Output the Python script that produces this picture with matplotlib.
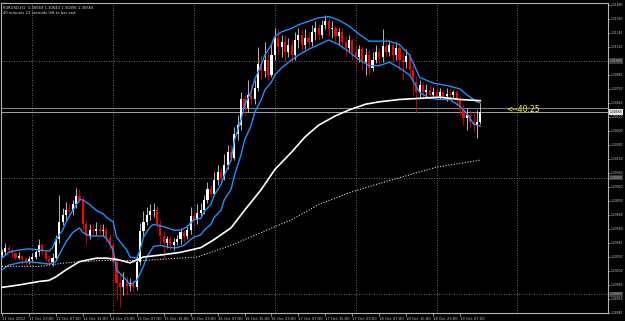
import numpy as np
import matplotlib
matplotlib.use("Agg")
import matplotlib.pyplot as plt

# ---------------- DATA ----------------
# EURUSD H1, one value per bar (open of each bar = close of the bar before)
first_open = 1.2934
closes = [
    1.2936,
    1.2940, 1.2938, 1.2935, 1.2931, 1.2933, 1.2930, 1.2928, 1.2930, 1.2932, 1.2936,
    1.2942, 1.2936, 1.2930, 1.2928, 1.2931, 1.2947, 1.2962, 1.2968, 1.2972, 1.2971,
    1.2977, 1.2984, 1.2981, 1.2960, 1.2950, 1.2955, 1.2954, 1.2956, 1.2954, 1.2955,
    1.2948, 1.2942, 1.2928, 1.2910, 1.2906, 1.2912, 1.2907, 1.2910, 1.2906, 1.2928,
    1.2954, 1.2962, 1.2968, 1.2971, 1.2972, 1.2960, 1.2950, 1.2944, 1.2947, 1.2942,
    1.2945, 1.2947, 1.2953, 1.2950, 1.2955, 1.2967, 1.2964, 1.2970, 1.2972, 1.2981,
    1.2990, 1.2986, 1.2998, 1.3005, 1.3000, 1.3011, 1.3022, 1.3017, 1.3037, 1.3045,
    1.3067, 1.3060, 1.3071, 1.3067, 1.3077, 1.3097, 1.3091, 1.3101, 1.3088, 1.3105,
    1.3120, 1.3112, 1.3116, 1.3108, 1.3114, 1.3105, 1.3118, 1.3122, 1.3114, 1.3120,
    1.3116, 1.3125, 1.3128, 1.3122, 1.3131, 1.3134, 1.3127, 1.3128, 1.3121, 1.3125,
    1.3116, 1.3111, 1.3118, 1.3108, 1.3103, 1.3110, 1.3099, 1.3105, 1.3094, 1.3101,
    1.3108, 1.3103, 1.3113, 1.3108, 1.3114, 1.3105, 1.3111, 1.3101, 1.3099, 1.3104,
    1.3092, 1.3082, 1.3073, 1.3079, 1.3073, 1.3075, 1.3071, 1.3073, 1.3070, 1.3073,
    1.3070, 1.3072, 1.3071, 1.3073, 1.3067, 1.3058, 1.3051, 1.3054, 1.3048, 1.3045,
    1.3048, 1.30565,
]
highs = [
    1.2939,
    1.2944, 1.2942, 1.2940, 1.2936, 1.2936, 1.2934, 1.2932, 1.2933, 1.2935, 1.2938,
    1.2947, 1.2944, 1.2938, 1.2934, 1.2935, 1.2951, 1.2985, 1.2974, 1.2979, 1.2977,
    1.2981, 1.2991, 1.2990, 1.2984, 1.2964, 1.2960, 1.2960, 1.2962, 1.2960, 1.2960,
    1.2958, 1.2952, 1.2944, 1.2931, 1.2917, 1.2919, 1.2916, 1.2914, 1.2912, 1.2934,
    1.2961, 1.2971, 1.2975, 1.2977, 1.2978, 1.2976, 1.2964, 1.2954, 1.2950, 1.2950,
    1.2948, 1.2951, 1.2957, 1.2955, 1.2959, 1.2975, 1.2971, 1.2977, 1.2978, 1.2985,
    1.2996, 1.2994, 1.3005, 1.3011, 1.3008, 1.3020, 1.3028, 1.3028, 1.3043, 1.3054,
    1.3073, 1.3071, 1.3084, 1.3080, 1.3084, 1.3112, 1.3105, 1.3116, 1.3108, 1.3114,
    1.3128, 1.3127, 1.3122, 1.3122, 1.3120, 1.3118, 1.3125, 1.3128, 1.3127, 1.3127,
    1.3125, 1.3131, 1.3134, 1.3132, 1.3135, 1.3139, 1.3137, 1.3134, 1.3131, 1.3128,
    1.3128, 1.3121, 1.3122, 1.3120, 1.3114, 1.3114, 1.3113, 1.3111, 1.3110, 1.3108,
    1.3114, 1.3111, 1.3127, 1.3120, 1.3118, 1.3116, 1.3116, 1.3115, 1.3108, 1.3110,
    1.3108, 1.3097, 1.3087, 1.3084, 1.3082, 1.3080, 1.3079, 1.3078, 1.3077, 1.3077,
    1.3075, 1.3077, 1.3076, 1.3075, 1.3075, 1.3070, 1.3063, 1.3060, 1.3058, 1.3056,
    1.3058, 1.30643,
]
lows = [
    1.2932,
    1.2934, 1.2936, 1.2932, 1.2929, 1.2930, 1.2926, 1.2924, 1.2926, 1.2928, 1.2930,
    1.2933, 1.2934, 1.2928, 1.2925, 1.2924, 1.2929, 1.2944, 1.2959, 1.2964, 1.2966,
    1.2968, 1.2974, 1.2978, 1.2955, 1.2942, 1.2947, 1.2950, 1.2951, 1.2952, 1.2950,
    1.2945, 1.2938, 1.2925, 1.2895, 1.2889, 1.2899, 1.2899, 1.2903, 1.2902, 1.2904,
    1.2925, 1.2949, 1.2959, 1.2964, 1.2966, 1.2957, 1.2942, 1.2931, 1.2940, 1.2938,
    1.2938, 1.2942, 1.2943, 1.2945, 1.2947, 1.2952, 1.2959, 1.2960, 1.2966, 1.2969,
    1.2978, 1.2983, 1.2984, 1.2994, 1.2995, 1.2998, 1.3007, 1.3014, 1.3015, 1.3032,
    1.3041, 1.3054, 1.3056, 1.3062, 1.3063, 1.3074, 1.3084, 1.3086, 1.3084, 1.3086,
    1.3101, 1.3105, 1.3103, 1.3099, 1.3103, 1.3099, 1.3101, 1.3111, 1.3108, 1.3110,
    1.3111, 1.3113, 1.3118, 1.3118, 1.3120, 1.3127, 1.3121, 1.3120, 1.3116, 1.3114,
    1.3110, 1.3104, 1.3108, 1.3101, 1.3094, 1.3099, 1.3092, 1.3088, 1.3088, 1.3091,
    1.3098, 1.3096, 1.3099, 1.3103, 1.3104, 1.3099, 1.3101, 1.3092, 1.3084, 1.3094,
    1.3086, 1.3071, 1.3055, 1.3067, 1.3067, 1.3068, 1.3067, 1.3068, 1.3067, 1.3067,
    1.3067, 1.3066, 1.3067, 1.3068, 1.3061, 1.3054, 1.3045, 1.3041, 1.3043, 1.3039,
    1.3034, 1.3046,
]

# indicator lines, read at some bars
upper_idx = [0, 2, 5, 8, 11, 14, 15, 16, 18, 19, 21, 23, 24, 26, 28, 30, 31, 33, 34, 37,
             38, 40, 41, 42, 44, 45, 48, 51, 53, 55, 57, 59, 60, 62, 63, 65, 66, 68, 69, 71,
             72, 74, 75, 77, 78, 80, 81, 83, 86, 88, 91, 94, 97, 100, 103, 106, 109, 112, 115, 118,
             121, 124, 128, 132, 136, 138, 141, 142]
upper_band = [1.2931, 1.2936, 1.2938, 1.2939, 1.2938, 1.2937, 1.2940, 1.2947, 1.2955, 1.2962,
              1.2972, 1.2981, 1.2981, 1.2977, 1.2972, 1.2969, 1.2966, 1.2962, 1.2949, 1.2938,
              1.2932, 1.2931, 1.2938, 1.2949, 1.2958, 1.2960, 1.2958, 1.2955, 1.2955, 1.2958,
              1.2964, 1.2965, 1.2971, 1.2977, 1.2985, 1.2994, 1.3002, 1.3015, 1.3032, 1.3050,
              1.3062, 1.3074, 1.3084, 1.3097, 1.3105, 1.3114, 1.3121, 1.3125, 1.3128, 1.3131,
              1.3134, 1.3137, 1.3138, 1.3135, 1.3130, 1.3123, 1.3117, 1.3117, 1.3117, 1.3114,
              1.3105, 1.3086, 1.3081, 1.3079, 1.3076, 1.3071, 1.3065, 1.3064]

lower_idx = [0, 2, 5, 8, 11, 14, 16, 17, 19, 21, 23, 24, 26, 28, 30, 31, 33, 34, 37, 38,
             40, 42, 43, 45, 47, 50, 52, 54, 56, 57, 59, 60, 62, 63, 65, 66, 68, 69, 71, 72,
             74, 75, 77, 78, 80, 81, 83, 86, 88, 91, 94, 97, 100, 103, 106, 109, 112, 115, 118, 121,
             124, 127, 130, 133, 136, 138, 140, 142]
lower_band = [1.2921, 1.2925, 1.2927, 1.2928, 1.2927, 1.2926, 1.2928, 1.2934, 1.2945, 1.2953,
              1.2957, 1.2953, 1.2950, 1.2950, 1.2950, 1.2948, 1.2938, 1.2921, 1.2912, 1.2908,
              1.2912, 1.2924, 1.2932, 1.2941, 1.2942, 1.2940, 1.2940, 1.2942, 1.2947, 1.2949,
              1.2951, 1.2955, 1.2960, 1.2966, 1.2972, 1.2981, 1.2990, 1.3002, 1.3020, 1.3032,
              1.3045, 1.3056, 1.3067, 1.3075, 1.3082, 1.3088, 1.3094, 1.3101, 1.3105, 1.3110,
              1.3114, 1.3118, 1.3114, 1.3108, 1.3101, 1.3096, 1.3096, 1.3099, 1.3094, 1.3088,
              1.3073, 1.3068, 1.3067, 1.3067, 1.3061, 1.3055, 1.3046, 1.3044]

ma_idx = [0, 5, 11, 14, 16, 19, 23, 28, 31, 34, 38, 42, 48, 53, 59, 63, 68, 72, 77, 81,
          86, 90, 94, 99, 103, 108, 112, 118, 124, 130, 136, 142]
ma_fast = [1.2906, 1.2908, 1.2911, 1.2912, 1.2915, 1.2921, 1.2928, 1.2931, 1.2931, 1.2930,
           1.2927, 1.2932, 1.2934, 1.2936, 1.2940, 1.2947, 1.2957, 1.2972, 1.2990, 1.3007,
           1.3022, 1.3035, 1.3045, 1.3053, 1.3058, 1.3063, 1.3065, 1.3067, 1.3068, 1.3069,
           1.3067, 1.3066]

slow_idx = [0, 11, 19, 29, 42, 58, 68, 77, 86, 94, 103, 112, 118, 129, 142]
ma_slow = [1.2924, 1.2924, 1.2927, 1.2929, 1.2929, 1.2932, 1.2942, 1.2953, 1.2964, 1.2977,
           1.2987, 1.2995, 1.3000, 1.3009, 1.3015]

time_labels = ["11 Oct 2012", "11 Oct 23:00", "12 Oct 07:00", "12 Oct 15:00", "14 Oct 23:00",
               "15 Oct 07:00", "15 Oct 15:00", "15 Oct 23:00", "16 Oct 07:00", "16 Oct 15:00",
               "16 Oct 23:00", "17 Oct 07:00", "17 Oct 15:00", "17 Oct 23:00", "18 Oct 07:00",
               "18 Oct 15:00", "18 Oct 23:00", "19 Oct 07:00"]
day_breaks = [9, 33, 57, 81, 105, 129, 153]
bid, ask = 1.30565, 1.30600
price_levels = [1.28840 + 0.0012 * k for k in range(23)]
round_levels = [1.29, 1.30, 1.31]

header1 = "EURUSD,H1  1.30569 1.30643 1.30496 1.30565"
header2 = "40 minutes 21 seconds left to bar end"
countdown = "<--40:25"

# ---------------- PLOT ----------------
closes = np.array(closes)
highs = np.array(highs)
lows = np.array(lows)
opens = np.r_[first_open, closes[:-1]]
x = np.arange(len(closes))

fig = plt.figure(figsize=(6.25, 3.21), dpi=100, facecolor="black")
ax = fig.add_axes([1 / 625, 8 / 321, 607 / 625, 310 / 321], facecolor="black")

grid_c = "#8a8a8a"
for lvl in round_levels:
    ax.axhline(lvl, color=grid_c, lw=0.6, ls=(0, (1, 2)), zorder=1)
for d in day_breaks:
    ax.axvline(d, color=grid_c, lw=0.6, ls=(0, (1, 2)), zorder=1)

ax.axhline(ask, color="#7d8a96", lw=0.7, zorder=1)
ax.axhline(bid, color="#a0a0a0", lw=0.7, zorder=1)

up = closes >= opens
body_c = np.where(up, "#ffffff", "#ff0000")
wick_c = np.where(up, "#d0d0d0", "#e00000")
ax.vlines(x, lows, highs, colors=wick_c, lw=0.6, zorder=2)
body_h = np.maximum(np.abs(closes - opens), 0.00005)
ax.bar(x, body_h, bottom=np.minimum(opens, closes), width=0.62,
       color=body_c, linewidth=0, zorder=3)

ax.plot(upper_idx, upper_band, color="#1e90ff", lw=1.0, zorder=4)
ax.plot(lower_idx, lower_band, color="#1e90ff", lw=1.0, zorder=4)
ax.plot(ma_idx, ma_fast, color="white", lw=1.2, zorder=4)
ax.plot(slow_idx, ma_slow, color="#d8d8d8", lw=0.8, ls=(0, (1, 1.5)), zorder=4)

ax.set_xlim(-0.3, 179.9)
ax.set_ylim(1.28841, 1.31497)

ax.set_xticks(np.arange(len(time_labels)) * 8)
ax.set_xticklabels(time_labels, fontsize=2.7, color="#c8c8c8", ha="left")
ax.tick_params(axis="x", direction="out", length=2, width=0.5, color="#c0c0c0", pad=0.6)

ax.yaxis.tick_right()
ax.set_yticks(price_levels)
ax.set_yticklabels([f"{v:.5f}" for v in price_levels], fontsize=2.2, color="#c8c8c8")
ax.tick_params(axis="y", direction="out", length=1.5, width=0.5, color="#c0c0c0", pad=0.5)

for s in ax.spines.values():
    s.set_color("#b4b4b4")
    s.set_linewidth(0.8)

# highlighted labels on the price scale
tr = ax.get_yaxis_transform()
for lvl in round_levels:
    ax.text(1.003, lvl, f"{lvl:.5f}", transform=tr, fontsize=2.2, color="#c8c8c8",
            va="center", ha="left", clip_on=False,
            bbox=dict(boxstyle="square,pad=0.25", fc="#3a3a3a", ec="none"))
ax.text(1.003, bid, f"{bid:.5f}", transform=tr, fontsize=2.2, color="black",
        va="center", ha="left", clip_on=False,
        bbox=dict(boxstyle="square,pad=0.25", fc="#e8e8e8", ec="none"))

ax.text(0.004, 0.99, header1, transform=ax.transAxes, fontsize=2.7, color="#e0e0e0",
        va="top", ha="left")
ax.text(0.004, 0.975, header2, transform=ax.transAxes, fontsize=2.7, color="#e0e0e0",
        va="top", ha="left")
ax.text(149.6, 1.3058, countdown, fontsize=5.5, color="#ffff00", va="center", ha="left")

fig.savefig("out.png", dpi=100, facecolor="black")
